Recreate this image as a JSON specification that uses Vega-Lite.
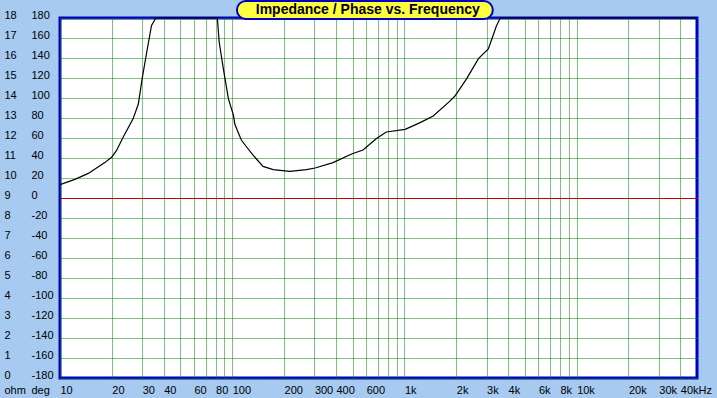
{
  "$schema": "https://vega.github.io/schema/vega-lite/v6.json",
  "width": 637,
  "height": 360,
  "autosize": {"type": "none"},
  "padding": {"left": 60, "top": 18, "right": 20, "bottom": 20},
  "background": "#A6CAF0",
  "config": {
    "view": {"fill": "white", "stroke": "#0000C0", "strokeWidth": 3},
    "font": "Liberation Sans",
    "axis": {"labelFont": "Liberation Sans", "labelFontSize": 11, "labelColor": "black", "titleFont": "Liberation Sans", "titleFontSize": 11, "titleFontWeight": "normal", "titleColor": "black"}
  },
  "datasets": {
    "impedance": [
      {"freq": 10, "ohm": 9.67},
      {"freq": 12.2, "ohm": 9.93},
      {"freq": 14.6, "ohm": 10.23},
      {"freq": 18.2, "ohm": 10.77},
      {"freq": 20, "ohm": 11.05},
      {"freq": 21.3, "ohm": 11.38},
      {"freq": 23.3, "ohm": 12.05},
      {"freq": 26.6, "ohm": 12.97},
      {"freq": 28.5, "ohm": 13.7},
      {"freq": 30, "ohm": 14.97},
      {"freq": 31.9, "ohm": 16.3},
      {"freq": 34, "ohm": 17.63},
      {"freq": 36, "ohm": 18},
      {"freq": 50, "ohm": 18},
      {"freq": 82, "ohm": 18},
      {"freq": 84, "ohm": 16.8},
      {"freq": 88.8, "ohm": 15.47},
      {"freq": 95, "ohm": 13.97},
      {"freq": 101.7, "ohm": 13.13},
      {"freq": 103.5, "ohm": 12.7},
      {"freq": 108, "ohm": 12.3},
      {"freq": 113, "ohm": 11.9},
      {"freq": 120, "ohm": 11.6},
      {"freq": 132.5, "ohm": 11.13},
      {"freq": 151, "ohm": 10.58},
      {"freq": 173, "ohm": 10.42},
      {"freq": 216, "ohm": 10.33},
      {"freq": 270, "ohm": 10.42},
      {"freq": 303, "ohm": 10.5},
      {"freq": 385, "ohm": 10.77},
      {"freq": 493, "ohm": 11.2},
      {"freq": 575, "ohm": 11.4},
      {"freq": 688, "ohm": 11.97},
      {"freq": 785, "ohm": 12.3},
      {"freq": 1010, "ohm": 12.43},
      {"freq": 1234, "ohm": 12.77},
      {"freq": 1470, "ohm": 13.1},
      {"freq": 1830, "ohm": 13.83},
      {"freq": 1965, "ohm": 14.1},
      {"freq": 2300, "ohm": 14.97},
      {"freq": 2690, "ohm": 15.97},
      {"freq": 3070, "ohm": 16.45},
      {"freq": 3250, "ohm": 17.05},
      {"freq": 3420, "ohm": 17.6},
      {"freq": 3600, "ohm": 18},
      {"freq": 50000, "ohm": 18}
    ],
    "heading": [{"title": "Impedance / Phase vs. Frequency"}]
  },
  "layer": [
    {
      "data": {"name": "impedance"},
      "mark": {"type": "line", "color": "black", "strokeWidth": 1.2},
      "encoding": {
        "x": {
          "field": "freq",
          "type": "quantitative",
          "scale": {"type": "log", "domain": [10, 50000], "nice": false},
          "axis": {
            "values": [10, 20, 30, 40, 50, 60, 70, 80, 90, 100, 200, 300, 400, 500, 600, 700, 800, 900, 1000, 2000, 3000, 4000, 5000, 6000, 7000, 8000, 9000, 10000, 20000, 30000, 40000],
            "grid": true,
            "gridColor": "#008000",
            "gridDash": [1, 1],
            "gridWidth": 1,
            "ticks": false,
            "tickSize": 0,
            "domain": false,
            "labelAlign": "left",
            "labelBaseline": "top",
            "labelPadding": 6,
            "labelOverlap": false,
            "labelFlush": false,
            "labelBound": false,
            "labelExpr": "datum.value == 40000 ? '40kHz' : (indexof([10,20,30,40,60,80,100,200,300,400,600,1000,2000,3000,4000,6000,8000,10000,20000,30000], datum.value) >= 0 ? (datum.value >= 1000 ? (datum.value / 1000) + 'k' : '' + datum.value) : '')",
            "title": null
          }
        },
        "y": {
          "field": "ohm",
          "type": "quantitative",
          "scale": {"domain": [0, 18], "nice": false, "zero": false, "clamp": true},
          "axis": {
            "orient": "left",
            "values": [0, 1, 2, 3, 4, 5, 6, 7, 8, 9, 10, 11, 12, 13, 14, 15, 16, 17, 18],
            "grid": false,
            "ticks": false,
            "tickSize": 0,
            "domain": false,
            "labelAlign": "left",
            "labelBaseline": "middle",
            "labelPadding": 56,
            "labelOffset": -2.5,
            "labelOverlap": false,
            "labelFlush": false,
            "labelBound": false,
            "title": "ohm",
            "titleAngle": 0,
            "titleAlign": "left",
            "titleBaseline": "top",
            "titleX": -56,
            "titleY": 366
          }
        }
      }
    },
    {
      "data": {"name": "heading"},
      "layer": [
        {
          "mark": {"type": "rect", "fill": "#FFFF40", "stroke": "#0000C0", "strokeWidth": 2, "cornerRadius": 9},
          "encoding": {
            "x": {"datum": 106.5, "type": "quantitative", "scale": {"type": "log", "domain": [10, 50000], "nice": false}, "axis": null},
            "x2": {"datum": 3260},
            "y": {
              "datum": 197,
              "type": "quantitative",
              "scale": {"domain": [-180, 180], "nice": false, "zero": false},
              "axis": {
                "orient": "left",
                "values": [-180, -160, -140, -120, -100, -80, -60, -40, -20, 0, 20, 40, 60, 80, 100, 120, 140, 160, 180],
                "grid": true,
                "gridColor": {"condition": {"test": "datum.value === 0", "value": "#C00000"}, "value": "#008000"},
                "gridDash": {"condition": {"test": "datum.value === 0", "value": []}, "value": [1, 1]},
                "gridWidth": 1,
                "ticks": false,
                "tickSize": 0,
                "domain": false,
                "labelAlign": "left",
                "labelBaseline": "middle",
                "labelPadding": 29,
                "labelOffset": -2.5,
                "labelOverlap": false,
                "labelFlush": false,
                "labelBound": false,
                "labelExpr": "'' + datum.value",
                "title": "deg",
                "titleAngle": 0,
                "titleAlign": "left",
                "titleBaseline": "top",
                "titleX": -29,
                "titleY": 366
              }
            },
            "y2": {"datum": 179}
          }
        },
        {
          "mark": {"type": "text", "font": "Liberation Sans", "fontWeight": "bold", "fontSize": 14, "color": "black", "align": "center", "baseline": "middle"},
          "encoding": {
            "x": {"datum": 613, "type": "quantitative", "scale": {"type": "log", "domain": [10, 50000], "nice": false}, "axis": null},
            "y": {"datum": 188, "type": "quantitative", "scale": {"domain": [-180, 180], "nice": false, "zero": false}, "axis": null},
            "text": {"field": "title"}
          }
        }
      ],
      "resolve": {"axis": {"x": "independent", "y": "independent"}}
    }
  ],
  "resolve": {"scale": {"y": "independent"}, "axis": {"x": "independent", "y": "independent"}}
}
